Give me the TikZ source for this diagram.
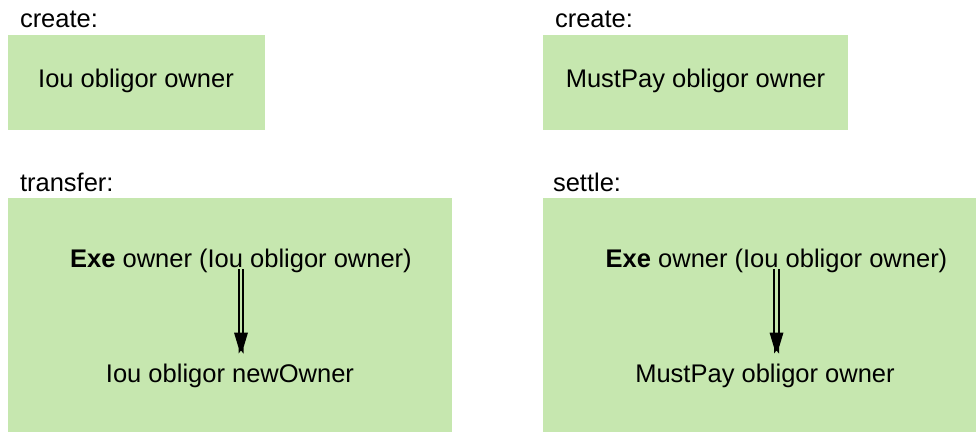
\documentclass[tikz,border=0pt]{standalone}
\usepackage{fontspec}
\setmainfont{Liberation Sans}
\definecolor{boxgreen}{RGB}{198,231,175}
\begin{document}
\begin{tikzpicture}[x=1pt,y=-1pt,
  panel/.style={fill=boxgreen,draw=none,inner sep=0pt,outer sep=0pt},
  txt/.style={inner sep=0pt,outer sep=0pt,anchor=base,font=\fontsize{25.5}{30}\selectfont},
  lbl/.style={inner sep=0pt,outer sep=0pt,anchor=base west,font=\fontsize{25.5}{30}\selectfont},
  rail/.style={line width=2.2pt,black},
  headfill/.style={fill=black,draw=none}]
\useasboundingbox (0,0) rectangle (976,432);
% panels
\node[panel,minimum width=257pt,minimum height=95pt] (box1) at (136.5,82.5) {};
\node[panel,minimum width=305pt,minimum height=95pt] (box2) at (695.5,82.5) {};
\node[panel,minimum width=444pt,minimum height=234pt] (box3) at (230,315) {};
\node[panel,minimum width=433pt,minimum height=234pt] (box4) at (759.5,315) {};
% labels
\node[lbl] (lcreate1) at (20,27) {create:};
\node[lbl] (lcreate2) at (555,27) {create:};
\node[lbl] (ltransfer) at (20,191.5) {transfer:};
\node[lbl] (lsettle) at (553,191.5) {settle:};
% texts
\node[txt] (iou1) at (136,87.5) {Iou obligor owner};
\node[txt] (mp1) at (695.5,87.5) {MustPay obligor owner};
\node[txt] (exe1) at (241,267) {\textbf{Exe} owner (Iou obligor owner)};
\node[txt] (exe2) at (776.5,267) {\textbf{Exe} owner (Iou obligor owner)};
\node[txt] (iou2) at (230,382) {Iou obligor newOwner};
\node[txt] (mp2) at (765,382) {MustPay obligor owner};
% arrows
\foreach \s/\t in {exe1/iou2,exe2/mp2}{
  \coordinate (top) at ([yshift=3pt]\s.south);
  \coordinate (tip) at ([yshift=10pt]\s.south |- \t.north);
  \draw[rail] ([xshift=-2.3pt]top) -- ([xshift=-2.3pt,yshift=14pt]tip);
  \draw[rail] ([xshift=2.3pt]top) -- ([xshift=2.3pt,yshift=14pt]tip);
  \fill[headfill] ([xshift=-7pt,yshift=21pt]tip) -- ([xshift=7pt,yshift=21pt]tip)
     -- ([xshift=2.5pt,yshift=6pt]tip) -- ([xshift=2.5pt]tip) -- ([yshift=3pt]tip)
     -- ([xshift=-2.5pt]tip) -- ([xshift=-2.5pt,yshift=6pt]tip) -- cycle;
}
\end{tikzpicture}
\end{document}
